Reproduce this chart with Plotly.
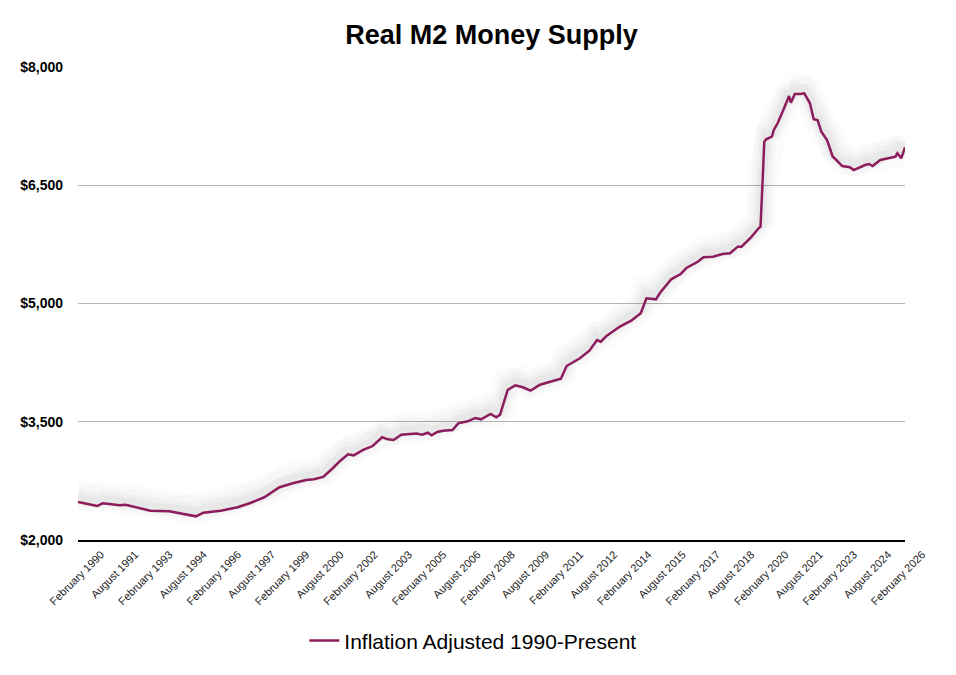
import plotly.graph_objects as go

# months counted from February 1990 (month 0)
months = [0, 6, 10, 13, 22, 25, 31, 38, 48, 55, 62, 66, 75, 84, 91, 98, 106, 113,
          120, 124, 129, 134, 138, 142, 145, 150, 155, 160, 163, 166, 170, 178,
          181, 184, 186, 189, 192, 197, 200, 205, 209, 212, 217, 220, 222, 226,
          230, 234, 238, 243, 248, 254, 257, 264, 269, 273, 275, 278, 283, 285,
          291, 296, 299, 304, 306, 312, 317, 320, 326, 329, 334, 339, 343, 347,
          349, 354, 358, 359, 360, 361, 362, 365, 366, 368, 371, 374, 375, 377,
          380, 382, 383, 385, 387, 389, 391, 394, 397, 398, 402, 406, 408, 410,
          414, 416, 418, 422, 426, 430, 431, 433, 435]
real_m2 = [2482, 2448, 2431, 2466, 2440, 2448, 2415, 2372, 2364, 2330, 2300, 2346,
           2372, 2415, 2473, 2542, 2669, 2719, 2761, 2770, 2800, 2910, 3006, 3087,
           3074, 3142, 3192, 3303, 3277, 3268, 3336, 3350, 3336, 3361, 3328, 3370,
           3387, 3395, 3480, 3506, 3548, 3531, 3598, 3556, 3590, 3903, 3962, 3937,
           3894, 3970, 4004, 4046, 4207, 4305, 4401, 4537, 4516, 4588, 4673, 4706,
           4782, 4876, 5066, 5053, 5130, 5307, 5374, 5450, 5530, 5586, 5594, 5628,
           5637, 5721, 5721, 5840, 5954, 5975, 6500, 7053, 7083, 7116, 7201, 7286,
           7455, 7632, 7547, 7658, 7658, 7666, 7623, 7540, 7337, 7328, 7180, 7074,
           6862, 6842, 6744, 6728, 6693, 6715, 6757, 6770, 6744, 6820, 6837, 6862,
           6905, 6842, 6981]

tick_months = list(range(0, 433, 18))
tick_labels = ["February 1990", "August 1991", "February 1993", "August 1994",
               "February 1996", "August 1997", "February 1999", "August 2000",
               "February 2002", "August 2003", "February 2005", "August 2006",
               "February 2008", "August 2009", "February 2011", "August 2012",
               "February 2014", "August 2015", "February 2017", "August 2018",
               "February 2020", "August 2021", "February 2023", "August 2024",
               "February 2026"]
y_ticks = [2000, 3500, 5000, 6500, 8000]
y_labels = ["$2,000", "$3,500", "$5,000", "$6,500", "$8,000"]

line_color = "#8c1c5c"
font = "Liberation Sans, Arial, sans-serif"

fig = go.Figure()

# soft grey glow sitting just above the line
for w, a, off in [(30, 0.015, 80), (22, 0.02, 75), (15, 0.025, 65), (9, 0.03, 55)]:
    fig.add_trace(go.Scatter(
        x=months, y=[v + off for v in real_m2],
        mode="lines", line=dict(color=f"rgba(0,0,0,{a})", width=w),
        hoverinfo="skip", showlegend=False
    ))

fig.add_trace(go.Scatter(
    x=months, y=real_m2,
    mode="lines",
    line=dict(color=line_color, width=2.5),
    name="Inflation Adjusted 1990-Present"
))

# page body adds an 8px offset, so the figure is a bit smaller than the window
fig.update_layout(
    width=948, height=667,
    paper_bgcolor="white", plot_bgcolor="white",
    margin=dict(l=70, r=51, t=59, b=135),
    title=dict(text="<b>Real M2 Money Supply</b>", x=0.5, xref="paper",
               xanchor="center", y=1 - 27 / 667, yanchor="middle",
               font=dict(family=font, size=27, color="black")),
    font=dict(family=font, color="black"),
    showlegend=True,
    legend=dict(orientation="h", x=0.478, xanchor="center", y=-0.17, yanchor="top",
                font=dict(size=21, color="black")),
    xaxis=dict(
        range=[0, 435], tickmode="array", tickvals=tick_months, ticktext=tick_labels,
        tickangle=-45, tickfont=dict(size=11, color="#222"),
        showgrid=False, zeroline=False, showline=True, linecolor="black", linewidth=1.5,
        ticks="", ticklabelshift=23, ticklabelstandoff=2, automargin=False
    ),
    yaxis=dict(
        range=[2000, 8000], tickmode="array", tickvals=y_ticks, ticktext=y_labels,
        tickfont=dict(size=14, color="black", weight="bold"),
        showgrid=True, gridcolor="#b4b4b4", gridwidth=1, zeroline=False,
        ticks="", ticklabelstandoff=14, automargin=False
    )
)

fig.write_html("out.html")
